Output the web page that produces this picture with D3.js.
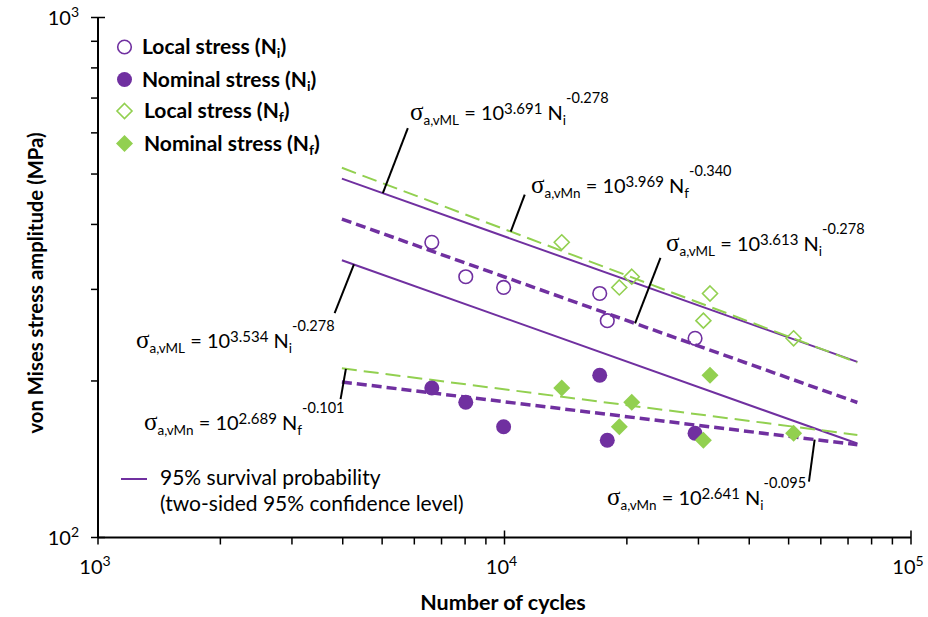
<!DOCTYPE html>
<html><head><meta charset="utf-8">
<script src="https://cdn.jsdelivr.net/npm/d3@7"></script>
<style>body{margin:0;background:#fff} svg{display:block} text{font-family:Lato,'Noto Sans',sans-serif;fill:#000}</style>
</head><body><svg id="c" width="928" height="617"></svg>
<script>
// ---------------- data ----------------
const Ni = [6625, 8030, 9950, 17150, 17900, 29430];          // cycles to crack initiation
const Nf = [13830, 20560, 19160, 32030, 30850, 51430];       // cycles to failure
const localStress = [369.6, 317.3, 302.6, 294.6, 261.2, 241.6];   // MPa
const nominalStress = [193.9, 182.0, 163.3, 205.1, 153.8, 158.7]; // MPa

// fitted lines (value at start / end of the drawn N range)
const fitRange = [3981, 73800];
const fitNames = ["localNiUpper95", "localNiMean", "localNiLower95", "localNfMean", "nominalNfMean", "nominalNiMean"];
const fitStart = [489.9, 409.6, 341.4, 514.0, 211.5, 199.1];
const fitEnd = [217.6, 181.8, 151.6, 217.0, 157.5, 150.8];

// equation annotations
const eqSub = ["a,vML", "a,vMn", "a,vML", "a,vML", "a,vMn", "a,vMn"];
const eqExp = ["3.691", "3.969", "3.613", "3.534", "2.689", "2.641"];
const eqN = ["i", "f", "i", "i", "f", "i"];
const eqPow = ["-0.278", "-0.340", "-0.278", "-0.278", "-0.101", "-0.095"];
const eqLine = [0, 3, 1, 2, 4, 5];
const eqAnchorN = [5020, 10360, 20950, 4262, 4072, 57940];

const legendLabels = ["Local stress (N", "Nominal stress (N", "Local stress (N", "Nominal stress (N"];
const legendSubs = ["i", "i", "f", "f"];
const xTickExps = [3, 4, 5];
const yTickExps = [2, 3];
const xTitle = "Number of cycles";
const yTitle = "von Mises stress amplitude (MPa)";
const bandText = ["95% survival probability", "(two-sided 95% confidence level)"];

// ---------------- styles / layout ----------------
const PURPLE = "#7030A0", GREEN = "#92D050";
const fitStyle = {
  localNiUpper95: {c: PURPLE, w: 2, d: null},
  localNiMean: {c: PURPLE, w: 3.5, d: "10,5"},
  localNiLower95: {c: PURPLE, w: 2, d: null},
  localNfMean: {c: GREEN, w: 2, d: "15,7"},
  nominalNfMean: {c: GREEN, w: 2, d: "15,7"},
  nominalNiMean: {c: PURPLE, w: 3.5, d: "10,5"}
};
const eqPos = [[410, 120], [531, 193], [666, 251], [136, 348], [144, 430], [607, 505]];
const leaderOff = [[25, -65], [14, -37], [25.4, -65.6], [-19.3, 48.7], [-5.3, 30.3], [-5.7, 42]];

const svg = d3.select("#c");
const x = d3.scaleLog().domain([1e3, 1e5]).range([98, 911]);
const y = d3.scaleLog().domain([100, 1000]).range([537.5, 17.5]);

// ---------------- axes ----------------
const ax = svg.append("g");
ax.append("line").attr("x1", x(1e3)).attr("x2", x(1e5)).attr("y1", y(100)).attr("y2", y(100)).attr("stroke", "#000").attr("stroke-width", 2);
ax.append("line").attr("x1", x(1e3)).attr("x2", x(1e3)).attr("y1", y(100)).attr("y2", y(1000)).attr("stroke", "#000").attr("stroke-width", 2);
const isMajor = v => Math.abs(Math.log10(v) - Math.round(Math.log10(v))) < 1e-9;
x.ticks().forEach(v => {
  const maj = isMajor(v);
  ax.append("line").attr("x1", x(v)).attr("x2", x(v))
    .attr("y1", y(100) + 7).attr("y2", maj ? y(100) - 7 : y(100))
    .attr("stroke", "#000").attr("stroke-width", 1.5);
});
y.ticks().forEach(v => {
  const maj = isMajor(v);
  ax.append("line").attr("y1", y(v)).attr("y2", y(v))
    .attr("x1", x(1e3) - 7).attr("x2", maj ? x(1e3) + 7 : x(1e3))
    .attr("stroke", "#000").attr("stroke-width", 1.5);
});
xTickExps.forEach(e => {
  const t = ax.append("text").attr("x", x(Math.pow(10, e)) - 3).attr("y", 574).attr("text-anchor", "middle").attr("font-size", 20);
  t.append("tspan").text("10");
  t.append("tspan").attr("font-size", 14).attr("dy", -8).text(e);
});
yTickExps.forEach(e => {
  const t = ax.append("text").attr("x", 79).attr("y", y(Math.pow(10, e)) + 7).attr("text-anchor", "end").attr("font-size", 20);
  t.append("tspan").text("10");
  t.append("tspan").attr("font-size", 14).attr("dy", -8).text(e);
});
svg.append("text").attr("x", 503).attr("y", 610).attr("text-anchor", "middle").attr("font-size", 21.5).attr("font-weight", "bold").text(xTitle);
svg.append("text").attr("transform", "translate(43,283) rotate(-90)").attr("text-anchor", "middle").attr("font-size", 20.3).attr("font-weight", "bold").text(yTitle);

// ---------------- fit lines ----------------
const fitData = fitNames.map((n, i) => ({name: n, pts: [[fitRange[0], fitStart[i]], [fitRange[1], fitEnd[i]]]}));
const line = d3.line().x(d => x(d[0])).y(d => y(d[1]));
svg.append("g").selectAll("path").data(fitData).join("path")
  .attr("d", d => line(d.pts)).attr("fill", "none")
  .attr("stroke", d => fitStyle[d.name].c).attr("stroke-width", d => fitStyle[d.name].w)
  .attr("stroke-dasharray", d => fitStyle[d.name].d);

// value on a fit line at N (log-log interpolation)
function fitAt(i, N) {
  const t = (Math.log10(N) - Math.log10(fitRange[0])) / (Math.log10(fitRange[1]) - Math.log10(fitRange[0]));
  return Math.pow(10, Math.log10(fitStart[i]) + t * (Math.log10(fitEnd[i]) - Math.log10(fitStart[i])));
}

// ---------------- markers ----------------
const diamond = (cx, cy, r) => `M${cx},${cy - r}L${cx + r},${cy}L${cx},${cy + r}L${cx - r},${cy}Z`;
const mk = svg.append("g");
function openCircle(g, cx, cy) { g.append("circle").attr("cx", cx).attr("cy", cy).attr("r", 6.8).attr("fill", "#fff").attr("fill-opacity", 0).attr("stroke", PURPLE).attr("stroke-width", 1.6); }
function fullCircle(g, cx, cy) { g.append("circle").attr("cx", cx).attr("cy", cy).attr("r", 7.5).attr("fill", PURPLE); }
function openDiamond(g, cx, cy) { g.append("path").attr("d", diamond(cx, cy, 7.5)).attr("fill", "none").attr("stroke", GREEN).attr("stroke-width", 1.6); }
function fullDiamond(g, cx, cy) { g.append("path").attr("d", diamond(cx, cy, 8.5)).attr("fill", GREEN); }
Ni.forEach((n, i) => openCircle(mk, x(n), y(localStress[i])));
Ni.forEach((n, i) => fullCircle(mk, x(n), y(nominalStress[i])));
Nf.forEach((n, i) => openDiamond(mk, x(n), y(localStress[i])));
Nf.forEach((n, i) => fullDiamond(mk, x(n), y(nominalStress[i])));

// ---------------- equations ----------------
const eg = svg.append("g");
eqExp.forEach((e, i) => {
  const ancX = x(eqAnchorN[i]), ancY = y(fitAt(eqLine[i], eqAnchorN[i]));
  eg.append("line").attr("x1", ancX).attr("y1", ancY).attr("x2", ancX + leaderOff[i][0]).attr("y2", ancY + leaderOff[i][1])
    .attr("stroke", "#000").attr("stroke-width", 2);
  const t = eg.append("text").attr("x", eqPos[i][0]).attr("y", eqPos[i][1]).attr("font-size", 20);
  t.append("tspan").attr("font-family", "'Liberation Serif',serif").attr("font-size", 25).text("σ");
  t.append("tspan").attr("font-size", 13.5).attr("dy", 5).text(eqSub[i]);
  t.append("tspan").attr("dy", -5).text(" = 10");
  t.append("tspan").attr("font-size", 15).attr("dy", -6).text(e);
  t.append("tspan").attr("dy", 6).text(" N");
  t.append("tspan").attr("font-size", 13.5).attr("dy", 5).text(eqN[i]);
  t.append("tspan").attr("font-size", 14.5).attr("dy", -22).text(eqPow[i]);
});

// ---------------- legend ----------------
const lg = svg.append("g");
const legY = [47, 79.5, 111, 143.5];
const legMarkers = [openCircle, fullCircle, openDiamond, fullDiamond];
legendLabels.forEach((l, i) => {
  legMarkers[i](lg, 124.5, legY[i]);
  const t = lg.append("text").attr("x", i < 2 ? 142 : 144).attr("y", legY[i] + 7).attr("font-size", 21).attr("font-weight", "bold");
  t.append("tspan").text(l);
  t.append("tspan").attr("font-size", 14).attr("dy", 4).text(legendSubs[i]);
  t.append("tspan").attr("dy", -4).text(")");
});
lg.append("line").attr("x1", 121).attr("x2", 147).attr("y1", 479).attr("y2", 479).attr("stroke", PURPLE).attr("stroke-width", 2);
lg.append("text").attr("x", 160).attr("y", 485).attr("font-size", 21).text(bandText[0]);
lg.append("text").attr("x", 160).attr("y", 511).attr("font-size", 21).text(bandText[1]);
</script></body></html>
